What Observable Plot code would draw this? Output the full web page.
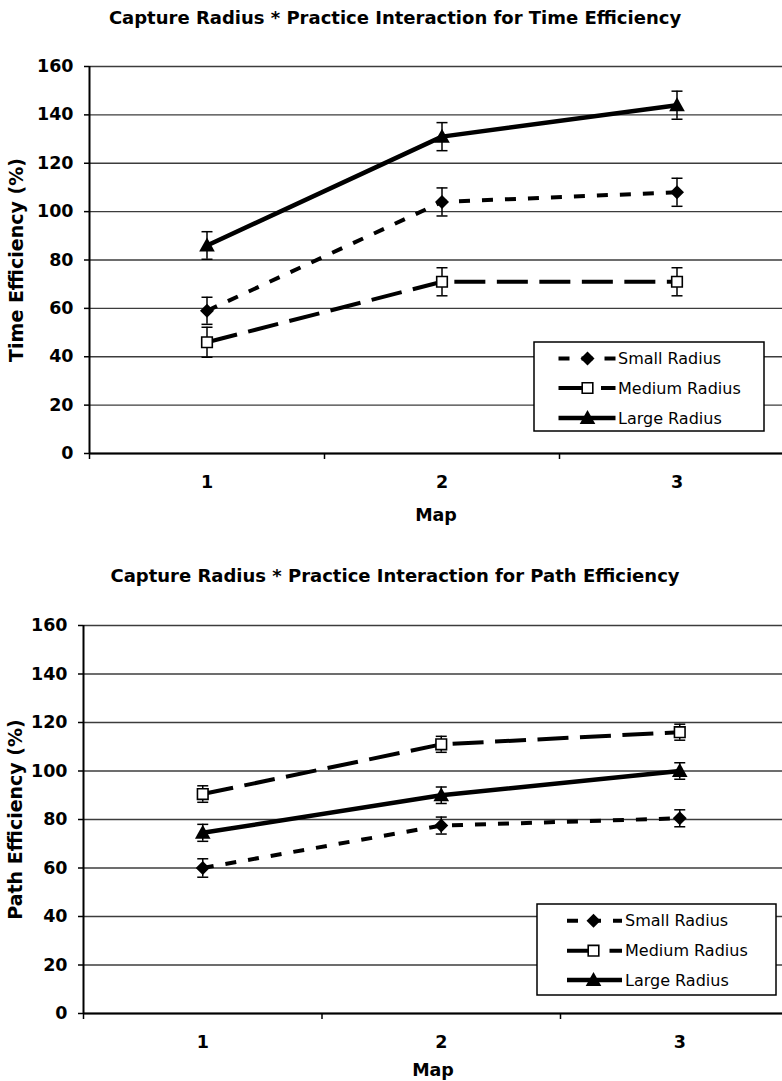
<!DOCTYPE html>
<html><head><meta charset="utf-8">
<script src="https://cdn.jsdelivr.net/npm/d3@7"></script>
<script src="https://cdn.jsdelivr.net/npm/@observablehq/plot@0.6"></script>
<style>
body{margin:0;background:#fff;}
#page{position:relative;width:782px;height:1081px;overflow:hidden;background:#fff;font-family:"DejaVu Sans",Verdana,sans-serif;}
.title{position:absolute;left:4px;width:782px;text-align:center;font-weight:bold;font-size:18px;line-height:22px;color:#000;white-space:nowrap;}
.chart{position:absolute;left:0;}
</style></head><body><div id="page"></div>
<script>
// ---- data ----
const maps = [1, 2, 3];
const seriesNames = ["Small Radius", "Medium Radius", "Large Radius"];
const yTicks = [0, 20, 40, 60, 80, 100, 120, 140, 160];

const timeSmall = [59, 104, 108];
const timeSmallErr = [5.6, 5.8, 5.8];
const timeMedium = [46, 71, 71];
const timeMediumErr = [6.2, 5.8, 5.8];
const timeLarge = [86, 131, 144];
const timeLargeErr = [5.7, 5.8, 5.8];

const pathSmall = [60, 77.5, 80.5];
const pathSmallErr = [3.8, 3.5, 3.5];
const pathMedium = [90.5, 111, 116];
const pathMediumErr = [3.4, 3.3, 3.3];
const pathLarge = [74.5, 90, 100];
const pathLargeErr = [3.5, 3.4, 3.4];

// ---- symbols ----
const diamondSym = {draw(ctx){const r=7;ctx.moveTo(0,-r);ctx.lineTo(r,0);ctx.lineTo(0,r);ctx.lineTo(-r,0);ctx.closePath();}};
const squareSym = {draw(ctx){const s=5.3;ctx.moveTo(-s,-s);ctx.lineTo(s,-s);ctx.lineTo(s,s);ctx.lineTo(-s,s);ctx.closePath();}};
const triSym = {draw(ctx){const w=7.8;ctx.moveTo(0,-8);ctx.lineTo(w,6);ctx.lineTo(-w,6);ctx.closePath();}};
const capSym = {draw(ctx){ctx.moveTo(-5.5,0);ctx.lineTo(5.5,0);}};

const styles = [
  {dash: "11,12", width: 4, symbol: diamondSym, fill: "black", symStroke: 0},
  {dash: "31,11.5", width: 4, symbol: squareSym, fill: "white", symStroke: 1.6},
  {dash: null, width: 4.5, symbol: triSym, fill: "black", symStroke: 0}
];

const page = document.getElementById("page");

function addTitle(text, top) {
  const d = document.createElement("div");
  d.className = "title";
  d.style.top = top + "px";
  d.textContent = text;
  page.appendChild(d);
}

function chart(opts) {
  const {vals, errs, yLabel, top, height, mTop, mBottom, mLeft, xRange, yLabelDx, mapDy} = opts;
  const xDomain = [maps[0] - 0.5, maps[maps.length - 1] + 0.5];
  const bounds = [maps[0] - 0.5, ...maps.map(m => m + 0.5)];
  const marks = [
    Plot.ruleY(yTicks, {stroke: "#3c3c3c", strokeWidth: 1.4}),
    Plot.ruleY([yTicks[0]], {stroke: "black", strokeWidth: 2}),
    Plot.ruleX([xDomain[0]], {y1: yTicks[0], y2: yTicks[yTicks.length - 1], stroke: "black", strokeWidth: 2}),
    Plot.axisY({ticks: yTicks, tickSize: 5, tickPadding: 11, fontSize: 17.5, fontWeight: "bold", label: null, strokeWidth: 1.5}),
    Plot.axisX({ticks: maps, tickSize: 0, tickPadding: 22, fontSize: 17.5, fontWeight: "bold", label: null, tickFormat: d => String(d)}),
    Plot.axisX({ticks: bounds, tickSize: 6, tickFormat: () => "", label: null, strokeWidth: 1.5})
  ];
  const rowsAll = [];
  seriesNames.forEach((name, i) => {
    const rows = maps.map((m, j) => ({series: name, map: m, v: vals[i][j], lo: vals[i][j] - errs[i][j], hi: vals[i][j] + errs[i][j]}));
    rowsAll.push(rows);
    marks.push(Plot.line(rows, {x: "map", y: "v", stroke: "black", strokeWidth: styles[i].width, strokeDasharray: styles[i].dash, strokeLinecap: "butt", strokeLinejoin: "miter"}));
  });
  rowsAll.forEach(rows => {
    marks.push(Plot.ruleX(rows, {x: "map", y1: "lo", y2: "hi", stroke: "black", strokeWidth: 1.5}));
    marks.push(Plot.dot(rows, {x: "map", y: "lo", symbol: capSym, stroke: "black", strokeWidth: 1.5}));
    marks.push(Plot.dot(rows, {x: "map", y: "hi", symbol: capSym, stroke: "black", strokeWidth: 1.5}));
  });
  rowsAll.forEach((rows, i) => {
    marks.push(Plot.dot(rows, {x: "map", y: "v", symbol: styles[i].symbol, fill: styles[i].fill, stroke: "black", strokeWidth: styles[i].symStroke}));
  });
  marks.push(Plot.text([yLabel], {text: d => d, frameAnchor: "left", textAnchor: "middle", lineAnchor: "middle", rotate: -90, dx: yLabelDx, fontSize: 19, fontWeight: "bold"}));
  marks.push(Plot.text(["Map"], {text: d => d, frameAnchor: "bottom", textAnchor: "middle", dy: mapDy, lineAnchor: "middle", fontSize: 17.5, fontWeight: "bold"}));

  const svg = Plot.plot({
    width: 782,
    height: height,
    marginTop: mTop,
    marginBottom: mBottom,
    marginLeft: mLeft,
    marginRight: 0,
    style: {fontFamily: "DejaVu Sans, Verdana, sans-serif", color: "black", background: "transparent"},
    x: {type: "linear", domain: xDomain, range: xRange},
    y: {domain: [yTicks[0], yTicks[yTicks.length - 1]]},
    marks
  });
  svg.classList.add("chart");
  svg.style.position = "absolute";
  svg.style.top = top + "px";
  svg.style.left = "0px";
  page.appendChild(svg);
}

function legend(box) {
  const svg = d3.create("svg")
    .attr("width", box.w + 4).attr("height", box.h + 4)
    .style("position", "absolute").style("left", (box.left - 2) + "px").style("top", (box.top - 2) + "px");
  svg.append("rect").attr("x", 2).attr("y", 2).attr("width", box.w).attr("height", box.h)
    .attr("fill", "white").attr("stroke", "black").attr("stroke-width", 1.5);
  seriesNames.forEach((name, i) => {
    const y = 2 + box.rows[i];
    const s = styles[i];
    svg.append("line").attr("x1", 2 + box.x0).attr("x2", 2 + box.x1).attr("y1", y).attr("y2", y)
      .attr("stroke", "black").attr("stroke-width", s.width).attr("stroke-dasharray", s.dash);
    svg.append("path").attr("transform", `translate(${2 + box.xm},${y})`).attr("d", d3.symbol(s.symbol)())
      .attr("fill", s.fill).attr("stroke", "black").attr("stroke-width", s.symStroke);
    svg.append("text").attr("x", 2 + box.xt).attr("y", y).attr("dy", "0.35em")
      .attr("font-family", "DejaVu Sans, Verdana, sans-serif").attr("font-size", 16).attr("fill", "black").text(name);
  });
  page.appendChild(svg.node());
}

// ---- top chart ----
addTitle("Capture Radius * Practice Interaction for Time Efficiency", 7);
chart({
  vals: [timeSmall, timeMedium, timeLarge],
  errs: [timeSmallErr, timeMediumErr, timeLargeErr],
  yLabel: "Time Efficiency (%)",
  top: 40, height: 500, mTop: 26, mBottom: 87, mLeft: 89,
  xRange: [89, 794], yLabelDx: -73, mapDy: 62
});
legend({left: 533.5, top: 341.5, w: 230, h: 89, rows: [16.5, 46, 76], x0: 24.5, x1: 81.5, xm: 53.5, xt: 84});

// ---- bottom chart ----
addTitle("Capture Radius * Practice Interaction for Path Efficiency", 565);
chart({
  vals: [pathSmall, pathMedium, pathLarge],
  errs: [pathSmallErr, pathMediumErr, pathLargeErr],
  yLabel: "Path Efficiency (%)",
  top: 600, height: 481, mTop: 25, mBottom: 68, mLeft: 83,
  xRange: [83, 798.5], yLabelDx: -68, mapDy: 57
});
legend({left: 536.5, top: 904, w: 239, h: 91, rows: [16.7, 46.7, 76], x0: 30, x1: 85, xm: 56.5, xt: 88});
</script>
</body></html>
